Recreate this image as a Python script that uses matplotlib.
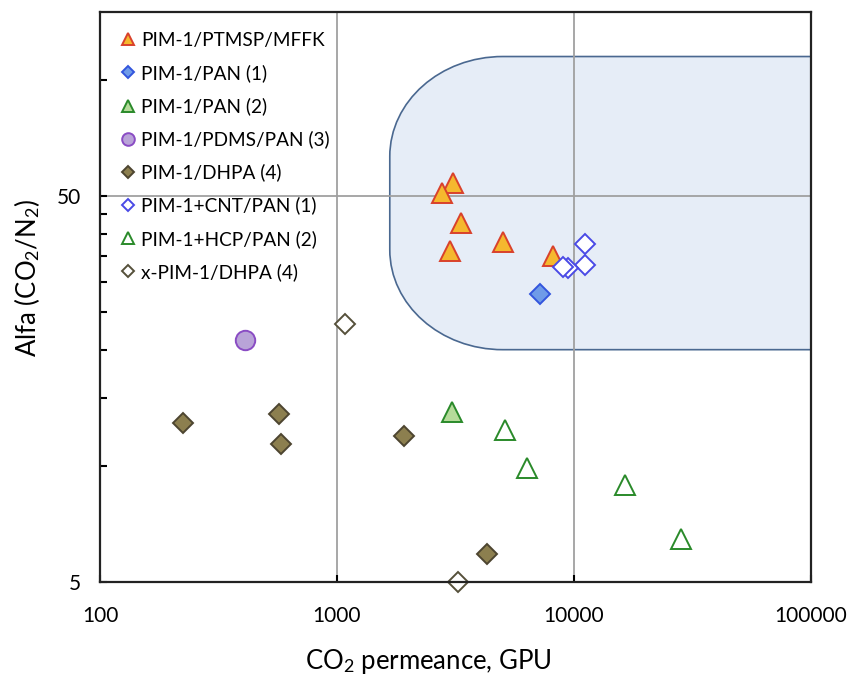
import matplotlib
matplotlib.use("Agg")
import matplotlib.pyplot as plt
from matplotlib.path import Path
from matplotlib.patches import PathPatch
from matplotlib.ticker import FixedLocator, NullFormatter, FixedFormatter

plt.rcParams['font.family'] = ['Lato', 'DejaVu Sans']
plt.rcParams['mathtext.fontset'] = 'custom'
plt.rcParams['mathtext.rm'] = 'Lato'
plt.rcParams['mathtext.it'] = 'Lato:italic'

# CO2 permeance (GPU) and CO2/N2 selectivity for each membrane series
ptmsp_x = [3080, 2770, 3330, 3000, 5030, 8150]
ptmsp_y = [54.0, 50.9, 42.6, 36.1, 38.1, 35.0]

pan1_x = [7190]
pan1_y = [27.9]

pan2_x = [3070]
pan2_y = [13.8]

pdms_x = [409]
pdms_y = [21.2]

dhpa_x = [225, 569, 580, 1920, 4310]
dhpa_y = [12.9, 13.6, 11.4, 11.95, 5.9]

cnt_x = [11090, 11090, 9460, 9010]
cnt_y = [37.6, 33.1, 32.6, 32.8]

hcp_x = [5120, 6320, 16370, 28200]
hcp_y = [12.4, 9.9, 8.9, 6.45]

xpim_x = [1080, 3230]
xpim_y = [23.3, 5.0]

labels = ["PIM-1/PTMSP/MFFK", "PIM-1/PAN (1)", "PIM-1/PAN (2)",
          "PIM-1/PDMS/PAN (3)", "PIM-1/DHPA (4)", "PIM-1+CNT/PAN (1)",
          "PIM-1+HCP/PAN (2)", "x-PIM-1/DHPA (4)"]

# target window: permeance and selectivity bounds of the shaded region
target_x = (1670, 100000)
target_y = (20, 115)

x_ticks = [100, 1000, 10000, 100000]
x_ticklabels = ["100", "1000", "10000", "100000"]
y_major = [5, 50]
y_minor = [10, 15, 20, 25, 30, 35, 40, 45, 100]

fig = plt.figure(figsize=(8.5, 6.77), dpi=100)
ax = fig.add_axes([100 / 850, 95 / 677, 711 / 850, 570 / 677])
ax.set_xscale('log')
ax.set_yscale('log')
ax.set_xlim(100, 100000)
ax.set_ylim(5, 150)

# rounded target region (rounded on the left side only)
def to_axes(x, y):
    return ax.transLimits.transform(ax.transScale.transform((x, y)))

L, B = to_axes(target_x[0], target_y[0])
R, T = to_axes(target_x[1], target_y[1])
rx, ry = 113 / 711, 100 / 570
k = 0.5523
verts = [(R, B), (L + rx, B),
         (L + rx * (1 - k), B), (L, B + ry * (1 - k)), (L, B + ry),
         (L, T - ry),
         (L, T - ry * (1 - k)), (L + rx * (1 - k), T), (L + rx, T),
         (R, T), (R, B)]
codes = [Path.MOVETO, Path.LINETO,
         Path.CURVE4, Path.CURVE4, Path.CURVE4,
         Path.LINETO,
         Path.CURVE4, Path.CURVE4, Path.CURVE4,
         Path.LINETO, Path.CLOSEPOLY]
ax.add_patch(PathPatch(Path(verts, codes), transform=ax.transAxes,
                       facecolor='#E6EDF7', edgecolor='#4A6890',
                       linewidth=1.2, zorder=1))

for xv in (1000, 10000):
    ax.axvline(xv, color='#A0A0A0', lw=1.3, zorder=1.5)
ax.axhline(50, color='#A0A0A0', lw=1.3, zorder=1.5)

mew = 1.4
ax.plot(ptmsp_x, ptmsp_y, ls='none', marker='^', ms=14, mfc='#F5B82E',
        mec='#D9412B', mew=mew, label=labels[0], zorder=3)
ax.plot(pan1_x, pan1_y, ls='none', marker='D', ms=10, mfc='#6F9BE8',
        mec='#3355DD', mew=mew, label=labels[1], zorder=3)
ax.plot(pan2_x, pan2_y, ls='none', marker='^', ms=14, mfc='#B5DB9A',
        mec='#2A8A2A', mew=mew, label=labels[2], zorder=3)
ax.plot(pdms_x, pdms_y, ls='none', marker='o', ms=14, mfc='#B9A3D8',
        mec='#8A4CC4', mew=mew, label=labels[3], zorder=3)
ax.plot(dhpa_x, dhpa_y, ls='none', marker='D', ms=10, mfc='#8C7F4F',
        mec='#4D4530', mew=mew, label=labels[4], zorder=3)
ax.plot(cnt_x, cnt_y, ls='none', marker='D', ms=10, mfc='white',
        mec='#4A4AE6', mew=mew, label=labels[5], zorder=3)
ax.plot(hcp_x, hcp_y, ls='none', marker='^', ms=14, mfc='white',
        mec='#2A8A2A', mew=mew, label=labels[6], zorder=3)
ax.plot(xpim_x, xpim_y, ls='none', marker='D', ms=10, mfc='white',
        mec='#55503A', mew=mew, label=labels[7], zorder=3, clip_on=False)

leg = ax.legend(loc='upper left', bbox_to_anchor=(0.028, 0.965), frameon=False,
                fontsize=13.7, markerscale=0.65, handlelength=0.8,
                handletextpad=0.3, labelspacing=0.8, borderaxespad=0,
                borderpad=0)

ax.xaxis.set_major_locator(FixedLocator(x_ticks))
ax.xaxis.set_major_formatter(FixedFormatter(x_ticklabels))
ax.xaxis.set_minor_locator(FixedLocator([]))
ax.yaxis.set_major_locator(FixedLocator(y_major))
ax.yaxis.set_major_formatter(FixedFormatter([str(v) for v in y_major]))
ax.yaxis.set_minor_locator(FixedLocator(y_minor))
ax.yaxis.set_minor_formatter(NullFormatter())

ax.tick_params(axis='both', which='both', direction='in', length=5, width=1.5,
               labelsize=15, color='black')
ax.tick_params(axis='x', pad=17)
ax.tick_params(axis='y', pad=14)

for s in ax.spines.values():
    s.set_linewidth(1.6)
    s.set_color('#222222')
    s.set_zorder(4)

fig.text(428 / 850, 1 - 661 / 677, "CO$_2$ permeance, GPU", fontsize=18.5,
         ha='center', va='center')
fig.text(27 / 850, 1 - 278 / 677, "Alfa (CO$_2$/N$_2$)", fontsize=18.5,
         ha='center', va='center', rotation=90)

fig.savefig("out.png", dpi=100)
